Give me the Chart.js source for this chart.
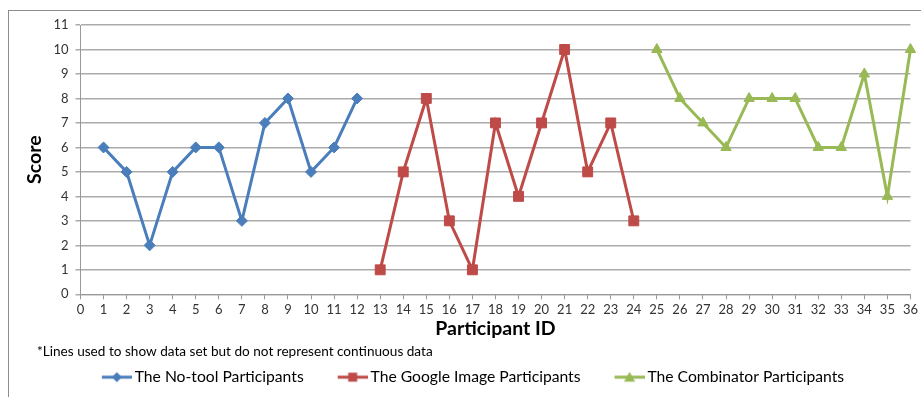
<!DOCTYPE html>
<html>
<head>
<meta charset="utf-8">
<script src="https://cdn.jsdelivr.net/npm/chart.js@4.4.1/dist/chart.umd.min.js"></script>
<style>
  html, body { margin: 0; padding: 0; background: #fff; }
  #wrap { width: 921px; height: 397px; }
</style>
</head>
<body>
<div id="wrap"><canvas id="chart" width="921" height="397"></canvas></div>
<script>
// participant ids per group
let noToolIds = [1, 2, 3, 4, 5, 6, 7, 8, 9, 10, 11, 12];
let googleIds = [13, 14, 15, 16, 17, 18, 19, 20, 21, 22, 23, 24];
let combinatorIds = [25, 26, 27, 28, 29, 30, 31, 32, 33, 34, 35, 36];

// scores
let noToolScores = [6, 5, 2, 5, 6, 6, 3, 7, 8, 5, 6, 8];
let googleScores = [1, 5, 8, 3, 1, 7, 4, 7, 10, 5, 7, 3];
let combinatorScores = [10, 8, 7, 6, 8, 8, 8, 6, 6, 9, 4, 10];

let seriesNames = ['The No-tool Participants', 'The Google Image Participants', 'The Combinator Participants'];
let noteText = '*Lines used to show data set but do not represent continuous data';

let blue = '#4a7ebb';
let red = '#be4b48';
let green = '#98b954';
let fontFamily = 'Lato, "Open Sans", sans-serif';

let toPoints = (ids, scores) => ids.map((id, i) => ({ x: id, y: scores[i] }));

// line + marker picture for the legend; blank space on the left gives the gap between entries
let iconBox = 49;
let legendIcon = (color, style) => {
    let c = document.createElement('canvas');
    c.width = iconBox + 10;
    c.height = 14;
    let g = c.getContext('2d');
    let x0 = c.width - 30;
    let cx = x0 + 15;
    g.strokeStyle = color;
    g.lineWidth = 3;
    g.beginPath();
    g.moveTo(x0, 7);
    g.lineTo(c.width, 7);
    g.stroke();
    g.fillStyle = color;
    g.beginPath();
    if (style === 'rectRot') {
        g.moveTo(cx, 2); g.lineTo(cx + 5, 7); g.lineTo(cx, 12); g.lineTo(cx - 5, 7);
    } else if (style === 'rect') {
        g.rect(cx - 4.5, 2.5, 9, 9);
    } else {
        g.moveTo(cx, 1.5); g.lineTo(cx + 5.5, 11.5); g.lineTo(cx - 5.5, 11.5);
    }
    g.closePath();
    g.fill();
    return c;
};

let framePlugin = {
    id: 'frame',
    afterLayout: (chart) => {
        // nudge the legend a little to the left, as in the original
        chart.legend.left -= 8;
        chart.legend.right -= 8;
    },
    beforeDraw: (chart) => {
        let ctx = chart.ctx;
        ctx.save();
        ctx.strokeStyle = '#8c8c8c';
        ctx.lineWidth = 1;
        ctx.strokeRect(8.5, 10.5, 960, 420);
        ctx.restore();
    },
    afterDraw: (chart) => {
        let ctx = chart.ctx;
        ctx.save();
        ctx.fillStyle = '#000';
        ctx.font = '13.6px ' + fontFamily;
        ctx.textBaseline = 'middle';
        ctx.fillText(noteText, 37, 352);
        ctx.restore();
    }
};

let makeSet = (label, ids, scores, color, style, radius) => ({
    label: label,
    data: toPoints(ids, scores),
    borderColor: color,
    backgroundColor: color,
    borderWidth: 3,
    pointStyle: style,
    pointRadius: radius,
    pointHoverRadius: radius,
    pointBorderWidth: 1,
    tension: 0,
    clip: false,
    legendIcon: legendIcon(color, style)
});

let ctx = document.querySelector('#chart').getContext('2d');
const chart = new Chart(ctx, {
    type: 'line',
    data: {
        datasets: [
            makeSet(seriesNames[0], noToolIds, noToolScores, blue, 'rectRot', 5.5),
            makeSet(seriesNames[1], googleIds, googleScores, red, 'rect', 7),
            makeSet(seriesNames[2], combinatorIds, combinatorScores, green, 'triangle', 6)
        ]
    },
    options: {
        responsive: false,
        animation: false,
        layout: { padding: { left: 23, right: 6, top: 25, bottom: 2 } },
        scales: {
            x: {
                type: 'linear',
                min: 0,
                max: 36,
                ticks: { stepSize: 1, color: '#333', font: { family: fontFamily, size: 13 }, padding: 3, maxRotation: 0, autoSkip: false },
                grid: { drawOnChartArea: false, drawTicks: true, tickLength: 5, color: '#999' },
                border: { color: '#999' },
                title: { display: true, text: 'Participant ID', color: '#000', font: { family: fontFamily, size: 19.5, weight: 'bold' }, padding: { top: -4, bottom: 19 } }
            },
            y: {
                min: 0,
                max: 11,
                ticks: { stepSize: 1, color: '#333', font: { family: fontFamily, size: 13 }, padding: 7 },
                grid: { color: '#ababab', lineWidth: 1.5, tickLength: 5 },
                border: { color: '#999' },
                title: { display: true, text: 'Score', color: '#000', font: { family: fontFamily, size: 19.5, weight: 'bold' }, padding: { top: 0, bottom: 0 } }
            }
        },
        plugins: {
            tooltip: { enabled: false },
            legend: {
                position: 'bottom',
                labels: {
                    usePointStyle: true,
                    pointStyleWidth: iconBox,
                    padding: 10,
                    color: '#000',
                    font: { family: fontFamily, size: 15.7 },
                    generateLabels: (c) => c.data.datasets.map((ds, i) => ({
                        text: ds.label,
                        fillStyle: ds.borderColor,
                        strokeStyle: ds.borderColor,
                        lineWidth: 0,
                        pointStyle: ds.legendIcon,
                        hidden: false,
                        datasetIndex: i,
                        fontColor: '#000'
                    }))
                }
            }
        }
    },
    plugins: [framePlugin]
});
</script>
</body>
</html>
